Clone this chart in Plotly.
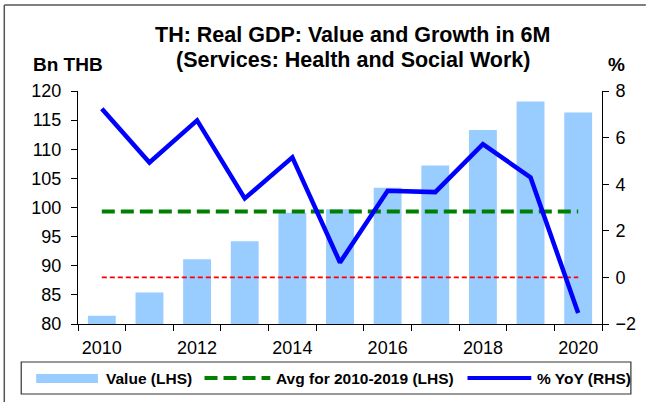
import plotly.graph_objects as go

# Real GDP, Services: Health and Social Work, first six months of each year
years = [2010, 2011, 2012, 2013, 2014, 2015, 2016, 2017, 2018, 2019, 2020]
value_bn_thb = [81.4, 85.4, 91.1, 94.2, 99.1, 99.7, 103.4, 107.2, 113.3, 118.2, 116.3]
yoy_pct = [7.24, 4.93, 6.74, 3.39, 5.15, 0.64, 3.72, 3.66, 5.72, 4.29, -1.53]
year_labels = ["2010", "2012", "2014", "2016", "2018", "2020"]

avg_years = [y for y in years if 2010 <= y <= 2019]
avg_value = sum(v for y, v in zip(years, value_bn_thb) if y in avg_years) / len(avg_years)

W, H = 648, 402
ML, MR, MT, MB = 78, 44, 91, 78
PW, PH = W - ML - MR, H - MT - MB

FONT = "Arial, Liberation Sans, sans-serif"
BAR_COLOR = "#99CCFF"
AVG_COLOR = "#008000"
YOY_COLOR = "#0000FF"
ZERO_COLOR = "#FF0000"


def px(x):
    return (x - ML) / PW


def py(y):
    return (H - MB - y) / PH


fig = go.Figure()

fig.add_trace(go.Bar(
    x=years, y=value_bn_thb, name="Value (LHS)",
    marker=dict(color=BAR_COLOR, line=dict(width=0)),
    width=0.585, yaxis="y", showlegend=False,
))
fig.add_trace(go.Scatter(
    x=[years[0], years[-1]], y=[avg_value, avg_value],
    name="Avg for 2010-2019 (LHS)", mode="lines",
    line=dict(color=AVG_COLOR, width=4, dash="13px,6px"),
    yaxis="y", showlegend=False,
))
fig.add_trace(go.Scatter(
    x=[years[0], years[-1]], y=[0, 0], mode="lines",
    line=dict(color=ZERO_COLOR, width=1.6, dash="5px,3px"),
    yaxis="y2", showlegend=False,
))
fig.add_trace(go.Scatter(
    x=years, y=yoy_pct, name="% YoY (RHS)", mode="lines",
    line=dict(color=YOY_COLOR, width=4.5),
    yaxis="y2", showlegend=False,
))

axis_font = dict(family=FONT, size=18, color="black")

fig.update_layout(
    width=W, height=H,
    margin=dict(l=ML, r=MR, t=MT, b=MB),
    paper_bgcolor="white", plot_bgcolor="white",
    font=dict(family=FONT, color="black"),
    xaxis=dict(
        range=[2009.5, 2020.5],
        tickmode="array", tickvals=[int(t) for t in year_labels], ticktext=year_labels,
        ticks="outside", ticklen=6, tickcolor="rgba(0,0,0,0)", ticklabelstandoff=1,
        minor=dict(tickmode="linear", tick0=2009.5, dtick=1, ticks="outside",
                   ticklen=6, tickcolor="black", showgrid=False),
        showline=True, linecolor="black", linewidth=1,
        showgrid=False, zeroline=False, tickfont=axis_font,
    ),
    yaxis=dict(
        range=[80, 120], dtick=5, ticks="outside", ticklen=6, tickcolor="black",
        ticklabelstandoff=6,
        showline=True, linecolor="black", linewidth=1,
        showgrid=False, zeroline=False, tickfont=axis_font,
    ),
    yaxis2=dict(
        range=[-2, 8], dtick=2, overlaying="y", side="right",
        ticks="outside", ticklen=6, tickcolor="black", ticklabelstandoff=3,
        showline=True, linecolor="black", linewidth=1,
        showgrid=False, zeroline=False, tickfont=axis_font,
    ),
    bargap=0.4,
)

annotations = [
    dict(text="<b>TH: Real GDP: Value and Growth in 6M</b>", x=px(354), y=py(35),
         font=dict(size=21.5)),
    dict(text="<b>(Services: Health and Social Work)</b>", x=px(354), y=py(60),
         font=dict(size=21.5)),
    dict(text="<b>Bn THB</b>", x=px(68), y=py(64), font=dict(size=19)),
    dict(text="<b>%</b>", x=px(619), y=py(64), font=dict(size=19)),
]
for a in annotations:
    a.update(xref="paper", yref="paper", showarrow=False,
             xanchor="center", yanchor="middle")

# Legend row drawn beneath the axes
leg_y = 378
legend_items = [
    ("<b>Value (LHS)</b>", 104),
    ("<b>Avg for 2010-2019 (LHS)</b>", 275),
    ("<b>% YoY (RHS)</b>", 537),
]
for text, x0 in legend_items:
    annotations.append(dict(text=text, x=px(x0), y=py(leg_y), xref="paper", yref="paper",
                            showarrow=False, xanchor="left", yanchor="middle",
                            font=dict(size=15.5)))
fig.update_layout(annotations=annotations)

shapes = [
    # frame
    dict(type="line", x0=px(4), x1=px(648), y0=py(5), y1=py(5),
         line=dict(color="#555555", width=1.5)),
    dict(type="line", x0=px(4), x1=px(4), y0=py(5), y1=py(402),
         line=dict(color="#555555", width=1.5)),
    # legend box
    dict(type="rect", x0=px(21), x1=px(633), y0=py(362), y1=py(394),
         line=dict(color="#333333", width=1.2), fillcolor="rgba(0,0,0,0)"),
    # legend swatches
    dict(type="rect", x0=px(36), x1=px(98), y0=py(374), y1=py(383),
         line=dict(width=0), fillcolor=BAR_COLOR),
    dict(type="line", x0=px(205), x1=px(271), y0=py(leg_y), y1=py(leg_y),
         line=dict(color=AVG_COLOR, width=4, dash="13px,6px")),
    dict(type="line", x0=px(469), x1=px(533), y0=py(leg_y), y1=py(leg_y),
         line=dict(color=YOY_COLOR, width=4)),
]
for s in shapes:
    s.update(xref="paper", yref="paper")
fig.update_layout(shapes=shapes)

fig.write_html("out.html")
